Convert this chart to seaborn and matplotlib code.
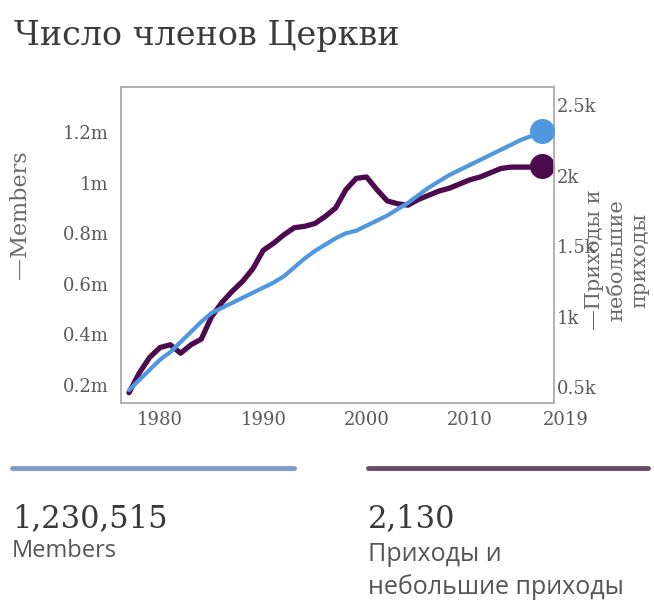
import matplotlib
matplotlib.use("Agg")
import matplotlib.pyplot as plt
import matplotlib.patheffects as pe
from matplotlib.transforms import blended_transform_factory
import seaborn as sns
import pandas as pd

# ---- data ----
years = list(range(1977, 2018))
members_m = [0.18, 0.22, 0.26, 0.30, 0.33, 0.37, 0.41, 0.45, 0.485, 0.505,
             0.525, 0.545, 0.565, 0.585, 0.605, 0.63, 0.665, 0.70, 0.73, 0.755,
             0.78, 0.80, 0.81, 0.83, 0.85, 0.87, 0.895, 0.92, 0.95, 0.98,
             1.005, 1.03, 1.05, 1.07, 1.09, 1.11, 1.13, 1.15, 1.17, 1.185, 1.205]
parishes_k = [0.46, 0.60, 0.71, 0.78, 0.80, 0.74, 0.80, 0.84, 1.00, 1.10,
              1.18, 1.25, 1.34, 1.47, 1.52, 1.58, 1.63, 1.64, 1.66, 1.71,
              1.77, 1.90, 1.98, 1.99, 1.90, 1.82, 1.80, 1.79, 1.83, 1.86,
              1.89, 1.91, 1.94, 1.97, 1.99, 2.02, 2.05, 2.06, 2.06, 2.06, 2.07]
x_ticks = [1980, 1990, 2000, 2010]
x_extra_label = "2019"
left_ticks = [0.2, 0.4, 0.6, 0.8, 1.0, 1.2]
left_labels = ["0.2m", "0.4m", "0.6m", "0.8m", "1m", "1.2m"]
right_ticks = [0.5, 1.0, 1.5, 2.0, 2.5]
right_labels = ["0.5k", "1k", "1.5k", "2k", "2.5k"]
title = "Число членов Церкви"
left_name = "—Members"
right_name = "—Приходы и\nнебольшие\nприходы"
total_members = "1,230,515"
total_members_lbl = "Members"
total_parishes = "2,130"
total_parishes_lbl = "Приходы и\nнебольшие приходы"

df = pd.DataFrame({"year": years, "members": members_m, "parishes": parishes_k})

BLUE = "#4f97e0"
PURPLE = "#4d0a4f"
TICK = "#5a5a5a"

sns.set_theme(style="white")
plt.rcParams["font.family"] = ["DejaVu Serif"]

W, H = 654, 601
fig = plt.figure(figsize=(W / 100, H / 100), dpi=100)
L, R, T, B = 121, 554, 87, 403
ax = fig.add_axes([L / W, 1 - B / H, (R - L) / W, (B - T) / H])
ax2 = ax.twinx()

sns.lineplot(data=df, x="year", y="members", ax=ax, color=BLUE, linewidth=3.0,
             solid_capstyle="round", zorder=2)
ax.plot(df["year"].iloc[-1:], df["members"].iloc[-1:], "o", color=BLUE,
        markersize=17, zorder=3, clip_on=False)
sns.lineplot(data=df, x="year", y="parishes", ax=ax2, color=PURPLE, linewidth=3.8,
             solid_capstyle="round", zorder=3,
             path_effects=[pe.Stroke(linewidth=5.5, foreground="white"), pe.Normal()])
ax2.plot(df["year"].iloc[-1:], df["parishes"].iloc[-1:], "o", color=PURPLE,
         markersize=17, zorder=4, clip_on=False)

ax.set_xlim(1976.23, 2018.14)
ax.set_ylim(0.129, 1.378)
ax2.set_ylim(0.387, 2.628)

ax.set_xticks(x_ticks)
ax.set_xticklabels([str(t) for t in x_ticks])
ax.set_yticks(left_ticks)
ax.set_yticklabels(left_labels)
ax2.set_yticks(right_ticks)
ax2.set_yticklabels(right_labels)
ax.set_xlabel("")
ax.set_ylabel("")
ax2.set_ylabel("")

ax.tick_params(axis="x", length=0, pad=6, labelsize=13, labelcolor=TICK)
ax.tick_params(axis="y", length=0, pad=9, labelsize=13, labelcolor=TICK)
ax2.tick_params(axis="y", length=0, pad=2, labelsize=13, labelcolor=TICK)

trans = blended_transform_factory(ax.transData, ax.transAxes)
ax.annotate(x_extra_label, xy=(2019.3, 0), xycoords=trans, xytext=(0, -6),
            textcoords="offset points", ha="center", va="top", fontsize=13,
            color=TICK, annotation_clip=False)

for a in (ax, ax2):
    for s in a.spines.values():
        s.set_color("#b0b0b0")
        s.set_linewidth(1.2)
ax.set_zorder(ax2.get_zorder() + 1)
ax.patch.set_visible(False)

# axis names
fig.text(20 / W, 1 - 215 / H, left_name, rotation=90, ha="center", va="center",
         fontsize=16, color="#6a6a6a")
fig.text(617 / W, 1 - 260 / H, right_name, rotation=90, ha="center", va="center",
         multialignment="center", fontsize=15, color="#6a6a6a", linespacing=1.25)

# title
fig.text(14 / W, 1 - 36 / H, title, ha="left", va="center", fontsize=24, color="#3a3a3a")

# bottom legend blocks
fig.add_artist(plt.Line2D([12 / W, 294 / W], [1 - 468 / H] * 2, color="#7e9cc6", linewidth=3.5))
fig.add_artist(plt.Line2D([368 / W, 648 / W], [1 - 468 / H] * 2, color="#6a4a6b", linewidth=3.5))

fig.text(12 / W, 1 - 527 / H, total_members, ha="left", va="baseline", fontsize=22, color="#3a3a3a")
fig.text(12 / W, 1 - 557 / H, total_members_lbl, ha="left", va="baseline", fontsize=17,
         color="#555555", family=["Open Sans", "DejaVu Sans"])
fig.text(368 / W, 1 - 527 / H, total_parishes, ha="left", va="baseline", fontsize=22, color="#3a3a3a")
fig.text(368 / W, 1 - 594 / H, total_parishes_lbl, ha="left", va="baseline", fontsize=18,
         color="#555555", family=["Open Sans", "DejaVu Sans"], linespacing=1.35)

fig.savefig("out.png", dpi=100)
